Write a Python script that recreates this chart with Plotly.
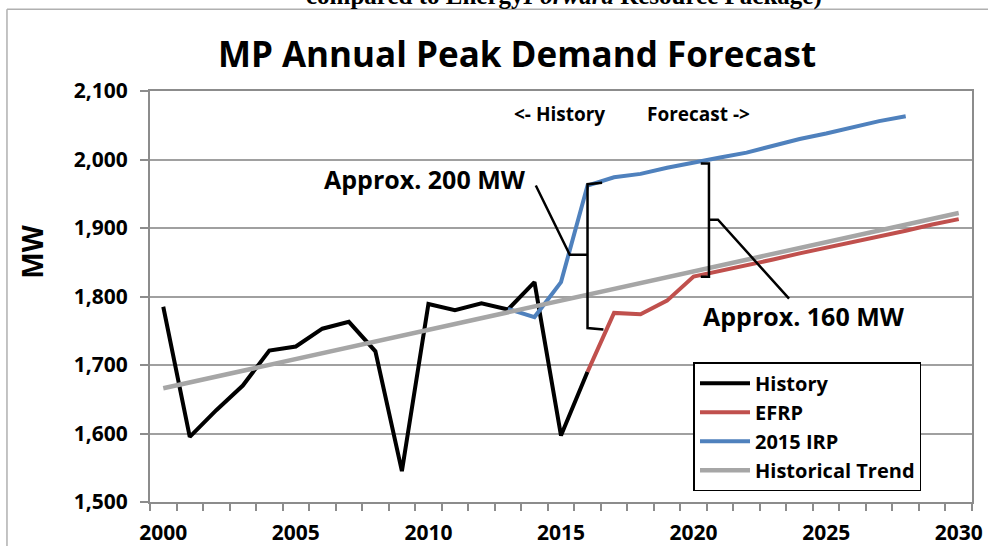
import plotly.graph_objects as go

# ---- data ----
hist_years = list(range(2000, 2017))
history = [1785, 1595, 1634, 1670, 1721, 1727, 1753, 1763, 1720, 1545,
           1789, 1780, 1790, 1781, 1821, 1597, 1690]

efrp_years = list(range(2016, 2031))
efrp = [1690, 1776, 1774, 1794, 1829, 1837, 1846, 1854, 1863, 1871,
        1879, 1888, 1896, 1905, 1913]

irp_years = list(range(2013, 2029))
irp = [1782, 1770, 1821, 1962, 1974, 1979, 1988, 1996, 2003, 2010,
       2020, 2030, 2038, 2047, 2056, 2063]

trend_years = [2000, 2030]
trend = [1666, 1922]

x_tick_years = [2000, 2005, 2010, 2015, 2020, 2025, 2030]
y_ticks = [1500, 1600, 1700, 1800, 1900, 2000, 2100]

FONT = "Open Sans"
BLACK = "#000000"
RED = "#C0504D"
BLUE = "#4F81BD"
GRAY = "#A6A6A6"
GRID = "#A0A0A0"
AXIS = "#8C8C8C"

fig = go.Figure()
fig.add_trace(go.Scatter(x=hist_years, y=history, mode="lines", name="History",
                         legendgroup="a", line=dict(color=BLACK, width=4)))
fig.add_trace(go.Scatter(x=efrp_years, y=efrp, mode="lines", name="EFRP",
                         legendgroup="b", line=dict(color=RED, width=4)))
fig.add_trace(go.Scatter(x=irp_years, y=irp, mode="lines", name="2015 IRP",
                         legendgroup="c", line=dict(color=BLUE, width=4)))
fig.add_trace(go.Scatter(x=trend_years, y=trend, mode="lines", name="Historical Trend",
                         legendgroup="d", line=dict(color=GRAY, width=4.5)))

# brackets (data coordinates)
bracket = dict(color=BLACK, width=2.5)
shapes = [
    dict(type="path", xref="x", yref="y",
         path="M 2016.55,1966 L 2016.0,1964 L 2016.0,1754 L 2016.6,1752",
         line=bracket),
    dict(type="path", xref="x", yref="y",
         path="M 2016.0,1861 L 2015.33,1861 L 2014.05,1962",
         line=bracket),
    dict(type="path", xref="x", yref="y",
         path="M 2020.27,1994 L 2020.58,1994 L 2020.58,1829 L 2020.27,1829",
         line=bracket),
    dict(type="path", xref="x", yref="y",
         path="M 2020.58,1912 L 2020.92,1912 L 2023.6,1797",
         line=bracket),
    # outer frame (left and top edges visible)
    dict(type="line", xref="paper", yref="paper", x0=-0.174, x1=-0.174, y0=1.199, y1=-0.2,
         line=dict(color="#B0B0B0", width=1.5)),
    dict(type="line", xref="paper", yref="paper", x0=-0.174, x1=1.1, y0=1.199, y1=1.199,
         line=dict(color="#B0B0B0", width=1.5)),
]

annotations = [
    dict(text="<- History", x=2014.95, y=2066, xref="x", yref="y", showarrow=False,
         font=dict(family=FONT, size=19, color=BLACK, weight="bold")),
    dict(text="Forecast ->", x=2020.2, y=2066, xref="x", yref="y", showarrow=False,
         font=dict(family=FONT, size=19, color=BLACK, weight="bold")),
    dict(text="Approx. 200 MW", x=2009.87, y=1972, xref="x", yref="y", showarrow=False,
         font=dict(family=FONT, size=25, color=BLACK, weight="bold")),
    dict(text="Approx. 160 MW", x=2024.18, y=1772, xref="x", yref="y", showarrow=False,
         font=dict(family=FONT, size=25, color=BLACK, weight="bold")),
    dict(text="MW", x=-0.143, y=0.61, xref="paper", yref="paper", showarrow=False,
         xanchor="center", yanchor="middle",
         textangle=-90, font=dict(family=FONT, size=28, color=BLACK, weight="bold")),
    dict(text="compared to Energy<i>Forward</i> Resource Package)", x=498 / 988,
         y=(501.7 + 4) / 411.0, xref="paper", yref="paper", showarrow=False,
         xanchor="center", yanchor="middle",
         font=dict(family="Liberation Serif", size=25, color=BLACK, weight="bold")),
]

fig.update_layout(
    width=988, height=546,
    margin=dict(l=150, r=16, t=91, b=44, pad=0, autoexpand=False),
    paper_bgcolor="white", plot_bgcolor="white",
    title=dict(text="MP Annual Peak Demand Forecast", x=517 / 988, xanchor="center",
               y=1 - 55 / 546, yanchor="middle",
               font=dict(family=FONT, size=35, color=BLACK, weight="bold")),
    xaxis=dict(range=[1999.5, 2030.5], tickvals=x_tick_years,
               ticktext=[str(v) for v in x_tick_years],
               ticks="outside", ticklen=7, tickcolor="rgba(0,0,0,0)",
               ticklabelstandoff=4, automargin=False,
               minor=dict(tickvals=[1999.5 + i for i in range(32)], ticks="outside",
                          ticklen=7, tickwidth=1.5, tickcolor=AXIS, showgrid=False),
               showgrid=False, showline=True, linecolor=AXIS, linewidth=2, mirror=True,
               zeroline=False,
               tickfont=dict(family=FONT, size=21, color=BLACK, weight="bold")),
    yaxis=dict(range=[1500, 2100], tickvals=y_ticks, tickformat=",",
               ticks="outside", ticklen=8, tickwidth=1.5, tickcolor=AXIS,
               ticklabelstandoff=8, automargin=False,
               showgrid=True, gridcolor=GRID, gridwidth=1.5,
               showline=True, linecolor=AXIS, linewidth=2, mirror=True, zeroline=False,
               tickfont=dict(family=FONT, size=21, color=BLACK, weight="bold")),
    legend=dict(x=(693.3 - 150) / 821.7, y=(501.7 - 362) / 411, xanchor="left", yanchor="top",
                bgcolor="white", bordercolor=BLACK, borderwidth=1.5,
                traceorder="grouped", tracegroupgap=0, itemwidth=50,
                entrywidth=242, entrywidthmode="pixels",
                font=dict(family=FONT, size=20, color=BLACK, weight="bold")),
    showlegend=True,
    shapes=shapes,
    annotations=annotations,
)

fig.write_html("out.html", config={"displayModeBar": False},
               post_script="document.body.style.margin='0px';")
